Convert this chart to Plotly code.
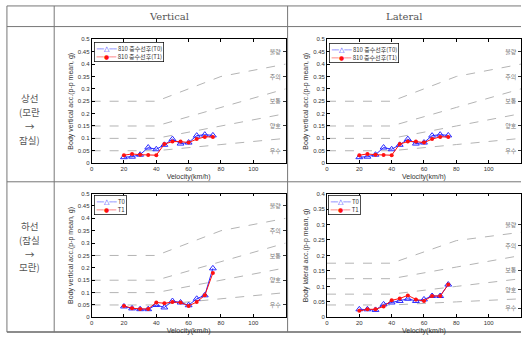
import plotly.graph_objects as go

W, H = 527, 340

# ---------------- data ----------------
speed = [20, 25, 30, 35, 40, 45, 50, 55, 60, 65, 70, 75]

up_vert_t0 = [0.024, 0.026, 0.034, 0.063, 0.056, 0.074, 0.097, 0.079, 0.083, 0.111, 0.115, 0.112]
up_vert_t1 = [0.032, 0.037, 0.034, 0.033, 0.032, 0.077, 0.087, 0.087, 0.083, 0.097, 0.106, 0.106]
down_vert_t0 = [0.044, 0.036, 0.033, 0.033, 0.050, 0.040, 0.066, 0.060, 0.049, 0.075, 0.089, 0.198]
down_vert_t1 = [0.046, 0.037, 0.034, 0.034, 0.060, 0.057, 0.062, 0.060, 0.046, 0.062, 0.089, 0.179]
down_lat_t0 = [0.026, 0.026, 0.024, 0.042, 0.048, 0.053, 0.060, 0.053, 0.058, 0.069, 0.069, 0.106]
down_lat_t1 = [0.021, 0.026, 0.026, 0.035, 0.055, 0.061, 0.071, 0.058, 0.053, 0.069, 0.069, 0.106]

limit_speed = [0, 40, 80, 120]
vert_limits = [
    [0.25, 0.25, 0.35, 0.40],
    [0.15, 0.15, 0.225, 0.30],
    [0.10, 0.10, 0.15, 0.20],
    [0.05, 0.05, 0.075, 0.10],
]
lat_limits = [
    [0.175, 0.175, 0.248, 0.275],
    [0.125, 0.125, 0.1625, 0.20],
    [0.075, 0.075, 0.10, 0.125],
    [0.04, 0.04, 0.05, 0.06],
]

grades = ["불량", "주의", "보통", "양호", "우수"]
vert_grade_pos = [0.45, 0.35, 0.25, 0.15, 0.05]
lat_grade_pos = [0.30, 0.232, 0.153, 0.09, 0.03]

x_ticks = [0, 20, 40, 60, 80, 100, 120]

up_names = ["810 중수선후(T0)", "810 중수선후(T1)"]
down_names = ["T0", "T1"]

col_titles = ["Vertical", "Lateral"]
row_titles = [["상선", "(모란", "→", "잠실)"], ["하선", "(잠실", "→", "모란)"]]

# ---------------- helpers ----------------
def px(x):
    return x / W

def py(y):
    return 1 - y / H

BLUE = "#2a2aff"
RED = "#ff1010"
GREY = "#b4b4b4"

panels = [
    # (t0, t1, limits, grade_pos, ymax, ytitle, names, xdom, ydom, legend box (x,y))
    (up_vert_t0, up_vert_t1, vert_limits, vert_grade_pos, 0.5, "Body vertical acc.(p-p mean, g)", up_names, (91, 288), (37, 163), (93, 40)),
    (up_vert_t0, up_vert_t1, vert_limits, vert_grade_pos, 0.5, "Body vertical acc.(p-p mean, g)", up_names, (330, 527), (37, 163), (332, 41)),
    (down_vert_t0, down_vert_t1, vert_limits, vert_grade_pos, 0.5, "Body vertical acc.(p-p mean, g)", down_names, (91, 288), (194, 320), (93, 195)),
    (down_lat_t0, down_lat_t1, lat_limits, lat_grade_pos, 0.4, "Body lateral acc.(p-p mean, g)", down_names, (330, 527), (194, 320), (331, 195)),
]

fig = go.Figure()
layout = dict(
    width=W, height=H,
    margin=dict(l=0, r=0, t=0, b=0),
    paper_bgcolor="white", plot_bgcolor="white",
    font=dict(family="Liberation Sans, Arial, sans-serif", size=6, color="#333"),
    showlegend=False,
)

annotations = []

def legend_text(names):
    blue_sample = f"<span style='color:{BLUE};font-family:DejaVu Sans'>──<span style='font-size:7px'>△</span>──</span>"
    red_sample = f"<span style='color:{RED};font-family:DejaVu Sans'>──<span style='font-size:6px'>●</span>──</span>"
    return f"{blue_sample} {names[0]}<br>{red_sample} {names[1]}"

for i, (t0, t1, lims, gpos, ymax, ytitle, names, xd, yd, lg) in enumerate(panels):
    n = i + 1
    xa = "x" if n == 1 else f"x{n}"
    ya = "y" if n == 1 else f"y{n}"
    ya2 = f"y{n + 4}"

    for lim in lims:
        fig.add_trace(go.Scatter(
            x=limit_speed, y=lim, mode="lines", xaxis=xa, yaxis=ya,
            line=dict(color=GREY, width=1, dash="dash"),
            showlegend=False, hoverinfo="skip"))

    fig.add_trace(go.Scatter(
        x=speed, y=t0, mode="lines+markers", name=names[0], xaxis=xa, yaxis=ya,
        line=dict(color=BLUE, width=1),
        marker=dict(symbol="triangle-up-open", size=6, color=BLUE, line=dict(width=1))))
    fig.add_trace(go.Scatter(
        x=speed, y=t1, mode="lines+markers", name=names[1], xaxis=xa, yaxis=ya,
        line=dict(color=RED, width=1),
        marker=dict(symbol="circle", size=4, color=RED)))
    # carrier for the grade axis
    fig.add_trace(go.Scatter(x=[None], y=[None], xaxis=xa, yaxis=ya2,
                             showlegend=False, hoverinfo="skip"))

    xkey = "xaxis" if n == 1 else f"xaxis{n}"
    ykey = "yaxis" if n == 1 else f"yaxis{n}"
    layout[xkey] = dict(
        domain=[px(xd[0]), px(xd[1])], anchor=ya, range=[0, 120],
        tickvals=x_ticks, ticks="inside", ticklen=3, tickcolor="black",
        showline=True, linecolor="black", linewidth=0.8, mirror="ticks",
        showgrid=False, zeroline=False,
        tickfont=dict(size=6, color="#333"),
        title=dict(text="Velocity(km/h)", font=dict(size=7, color="#333"), standoff=2),
    )
    layout[ykey] = dict(
        domain=[py(yd[1]), py(yd[0])], anchor=xa, range=[0, ymax],
        dtick=0.05, tick0=0, ticks="inside", ticklen=3, tickcolor="black",
        showline=True, linecolor="black", linewidth=0.8, mirror=True,
        showgrid=False, zeroline=False,
        tickfont=dict(size=6, color="#333"),
        title=dict(text=ytitle, font=dict(size=7, color="#333"), standoff=3),
    )
    layout[f"yaxis{n + 4}"] = dict(
        overlaying=ya, side="right", anchor=xa, range=[0, ymax],
        tickvals=gpos, ticktext=grades, ticks="inside", ticklen=3, tickcolor="#333",
        ticklabelposition="inside", showline=False, showgrid=False, zeroline=False,
        tickfont=dict(size=6, color="#777", family="Noto Sans CJK KR"),
    )
    # compact legend box
    annotations.append(dict(
        text=legend_text(names), x=px(lg[0]), y=py(lg[1]), xref="paper", yref="paper",
        xanchor="left", yanchor="top", align="left", showarrow=False,
        bgcolor="white", bordercolor="black", borderwidth=0.7, borderpad=1,
        font=dict(size=6, color="#333", family="Noto Sans CJK KR, Liberation Sans")))

# ---------------- table grid ----------------
LC = "#777"
shapes = []
# clip the overflowing "120" labels of the left column at the cell border
for (y0, y1) in [(163.5, 171), (320.5, 328)]:
    shapes.append(dict(type="rect", xref="paper", yref="paper", layer="above",
                       x0=px(291), x1=px(306), y0=py(y1), y1=py(y0),
                       fillcolor="white", line=dict(width=0)))
for yy in [3, 24, 182]:
    shapes.append(dict(type="line", xref="paper", yref="paper", layer="above",
                       x0=px(5), x1=px(527), y0=py(yy), y1=py(yy), line=dict(color=LC, width=1)))
shapes.append(dict(type="line", xref="paper", yref="paper", layer="above",
                   x0=px(5), x1=px(527), y0=py(335), y1=py(335), line=dict(color="#666", width=1.5)))
for xx in [5, 53, 290]:
    shapes.append(dict(type="line", xref="paper", yref="paper", layer="above",
                       x0=px(xx), x1=px(xx), y0=py(3), y1=py(335), line=dict(color=LC, width=1)))
layout["shapes"] = shapes

for txt, cx in zip(col_titles, [170, 408]):
    annotations.append(dict(text=txt, x=px(cx), y=py(14), xref="paper", yref="paper",
                            showarrow=False, xanchor="center", yanchor="middle",
                            font=dict(family="DejaVu Serif", size=10, color="#555")))
for lines, cy in zip(row_titles, [118, 248]):
    for k, line in enumerate(lines):
        annotations.append(dict(text=line, x=px(28), y=py(cy + (k - 1.5) * 14), xref="paper", yref="paper",
                                showarrow=False, xanchor="center", yanchor="middle",
                                font=dict(family="Noto Sans CJK KR", size=9.5, color="#555")))
layout["annotations"] = annotations

fig.update_layout(**layout)
fig.write_html("out.html",
               config={"displayModeBar": False},
               post_script="document.body.style.margin='0';document.body.style.overflow='hidden';")
